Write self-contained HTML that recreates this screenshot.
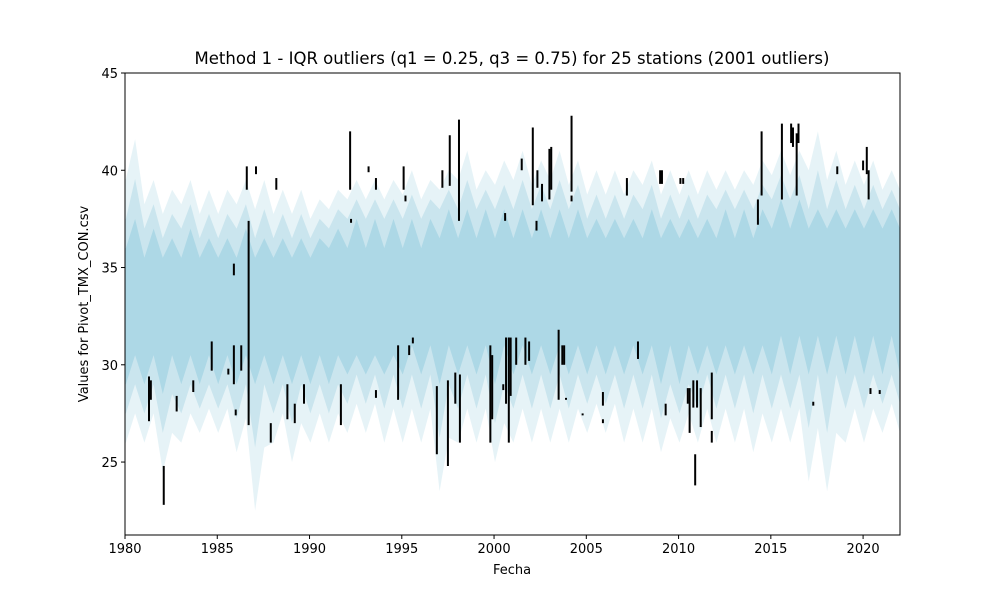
<!DOCTYPE html>
<html><head><meta charset="utf-8"><style>
body{margin:0;background:#fff;font-family:"Liberation Sans","DejaVu Sans",sans-serif}
svg text{font-family:"DejaVu Sans","Liberation Sans",sans-serif}
</style></head><body>
<svg id="chart" width="1000" height="600" viewBox="0 0 1000 600" xmlns="http://www.w3.org/2000/svg">
<rect width="1000" height="600" fill="#fff"/>
<text x="512" y="64" font-size="16.5" text-anchor="middle">Method 1 - IQR outliers (q1 = 0.25, q3 = 0.75) for 25 stations (2001 outliers)</text>
<g id="band"></g><g id="marks"></g><g id="axes"></g>
<text x="512" y="574" font-size="13" text-anchor="middle">Fecha</text>
<text transform="translate(88,304) rotate(-90)" font-size="13" text-anchor="middle">Values for Pivot_TMX_CON.csv</text>
</svg>
<script>
const years=[1980,1981,1982,1983,1984,1985,1986,1987,1988,1989,1990,1991,1992,1993,1994,1995,1996,1997,1998,1999,2000,2001,2002,2003,2004,2005,2006,2007,2008,2009,2010,2011,2012,2013,2014,2015,2016,2017,2018,2019,2020,2021];
const outerMax=[41.6,39.5,39,39.5,39,39,39.5,39.5,39,39,38.5,39,39.5,39.5,39.5,40,39.5,40,41,40,40.5,41,40.5,41,40.5,40,40,40,40.5,40,40,40,40,40,40.5,41,41,42,41,40.5,40.5,40];
const corePeak=[37.5,37,36.5,37,36.5,36.5,37,36.5,36.5,36.5,36.5,37,37.5,37.5,37.5,37.5,37.5,38,38,38,38,38,38,38,38,37.5,37.5,37.5,38,37.5,37.5,37.5,38,38,38,38.5,38.5,38,38,38,38,38];
const coreTrough=[36,35.5,35.5,35.5,35.5,35.5,35.5,35.5,35.5,35.5,35.5,36,36,36,36,36,36,36.5,36.5,36.5,36.5,36.5,36.5,36.5,36.5,36.5,36.5,36.5,36.5,36.5,36.5,36.5,36.5,36.5,36.5,37,37,37,37,37,37,37];
const coreLowPeak=[30.5,30.5,30.5,30.5,30.5,30.5,30.5,30.5,30.5,30.5,30.5,30.5,30.5,30.5,30.5,31,31,31,31,31,31,31,31,31,31,31,31,31,31,31,31,31,31,31,31,31.5,31.5,31.5,31.5,31.5,31.5,31.5];
const coreLowTrough=[29,29,28.5,29,29,29,29,29,29,29,29,29,29.5,29.5,29.5,29.5,29.5,29,29.5,29.5,29,29.5,29.5,29.5,29.5,29.5,29.5,29.5,29.5,29,29,29.5,29.5,29.5,29.5,29.5,29.5,29.5,29.5,29.5,29.5,29.5];
const outerMin=[26,26,24.5,26,26.5,26.5,25.5,22.5,26,25,26,26,26.5,26.5,26,26,26,23.5,26,26,25,26,26,26,26,26.5,26.5,26,26,25.5,26,26,26,26,25.5,26,26,24,23.5,26,26,26.5];
const outYear=[1981.3,1981.4,1982.1,1982.8,1983.7,1984.7,1985.6,1985.9,1985.9,1986.0,1986.3,1986.6,1986.7,1987.1,1987.9,1988.2,1988.8,1989.2,1989.7,1991.7,1992.2,1992.25,1993.2,1993.6,1993.6,1994.8,1995.1,1995.2,1995.4,1995.6,1996.9,1997.2,1997.5,1997.6,1997.9,1998.1,1998.15,1999.8,1999.9,2000.5,2000.6,2000.65,2000.8,2000.9,2001.2,2001.5,2001.7,2001.9,2002.1,2002.3,2002.35,2002.6,2003.0,2003.1,2003.5,2003.7,2003.8,2003.9,2004.2,2004.2,2004.8,2005.9,2005.9,2007.2,2007.8,2009.0,2009.1,2009.3,2010.1,2010.25,2010.5,2010.6,2010.8,2010.9,2011.0,2011.2,2011.8,2011.8,2014.3,2014.5,2015.6,2016.1,2016.2,2016.4,2016.5,2017.3,2018.6,2020.0,2020.2,2020.3,2020.4,2020.9];
const outLow=[27.1,28.2,22.8,27.6,28.6,29.7,29.5,29,34.6,27.4,29.7,39,26.9,39.8,26,39,27.2,27,28,26.9,39,37.3,39.9,39,28.3,28.2,39,38.4,30.5,31.1,25.4,39.1,24.8,39.2,28,37.4,26,26,27.2,28.7,37.4,28,26,28.4,30,40,30,30.2,38.2,36.9,39.1,38.4,38.5,39,28.2,30,30,28.2,38.9,38.4,27.4,27.9,27,38.7,30.3,39.3,39.3,27.4,39.3,39.3,28,26.5,27.8,23.8,27.8,26.8,27.2,26,37.2,38.7,38.5,41.4,41.2,38.7,41.4,27.9,39.8,40,39.8,38.5,28.5,28.5];
const outHigh=[29.4,29.2,24.8,28.4,29.2,31.2,29.8,31,35.2,27.7,31,40.2,37.4,40.2,27,39.6,29,28,29,29,42,37.5,40.2,39.6,28.7,31,40.2,38.7,31,31.4,28.9,40,29.2,41.8,29.6,42.6,29.5,31,30.5,29,37.8,31.4,31.4,31.4,31.4,40.6,31.4,31.2,42.2,37.4,40,39.3,41.1,41.2,31.8,31,31,28.3,42.8,38.7,27.5,28.6,27.2,39.6,31.2,40,40,28,39.6,39.6,28.8,28.8,29.2,25.4,29.2,28.8,29.6,26.6,38.5,42,42.4,42.4,42.2,41.9,42.4,28.1,40.2,40.5,41.2,40,28.8,28.7];
const xTicks=[1980,1985,1990,1995,2000,2005,2010,2015,2020];
const yTicks=[25,30,35,40,45];
const L=125,R=900,T=73,B=535,X0=1980,X1=2022,Y0=21.25,Y1=45;
const sx=v=>L+(v-X0)/(X1-X0)*(R-L);
const sy=v=>B-(v-Y0)/(Y1-Y0)*(B-T);
const NS='http://www.w3.org/2000/svg';
function mk(tag,attrs,parent){const e=document.createElementNS(NS,tag);for(const k in attrs)e.setAttribute(k,attrs[k]);parent.appendChild(e);return e;}
const band=document.getElementById('band'),marks=document.getElementById('marks'),axes=document.getElementById('axes');
function poly(topA,topB,botA,botB,fill,op,name){
  let top=[],bot=[];
  years.forEach((y,i)=>{top.push([sx(y+0.55),sy(topA[i])]);top.push([sx(y+0.05),sy(topB[i])]);
    bot.push([sx(y+0.55),sy(botA[i])]);bot.push([sx(y+0.05),sy(botB[i])]);});
  top.push([sx(2022.05),sy(topB[topB.length-1])]);bot.push([sx(2022.05),sy(botB[botB.length-1])]);
  top.sort((a,b)=>a[0]-b[0]);bot.sort((a,b)=>a[0]-b[0]);
  top.unshift([L,top[0][1]]);bot.unshift([L,bot[0][1]]);
  const pts=top.concat(bot.reverse()).map(p=>[Math.min(Math.max(p[0],L),R),p[1]].map(v=>v.toFixed(1)).join(',')).join(' ');
  const p=mk('polygon',{points:pts,fill:fill,'fill-opacity':op},band);
  
  
}
const midMax=outerMax.map((v,i)=>(v+corePeak[i])/2),midMin=outerMin.map((v,i)=>(v+coreLowTrough[i])/2);
poly(outerMax,midMax,midMin,outerMin,'#add8e6',0.3,'series-fringe');
poly(midMax,corePeak,coreLowTrough,midMin,'#add8e6',0.5,'series-mid');
poly(corePeak,coreTrough,coreLowPeak,coreLowTrough,'#add8e6',1,'series-core');
outYear.forEach((y,i)=>{
  const l=mk('line',{x1:sx(y),x2:sx(y),y1:sy(outHigh[i]),y2:sy(outLow[i]),stroke:'#000','stroke-width':2},marks);
  
  
});
const fr=mk('rect',{x:L,y:T,width:R-L,height:B-T,fill:'none',stroke:'#000','stroke-width':1},axes);


xTicks.forEach(t=>{
  const x=sx(t);
  const tk=mk('line',{x1:x,x2:x,y1:B,y2:B+4,stroke:'#000'},axes);
  
  
  const tx=mk('text',{x:x,y:B+18,'font-size':13,'text-anchor':'middle'},axes);tx.textContent=t;
  
  
});
yTicks.forEach(t=>{
  const y=sy(t);
  const tk=mk('line',{x1:L-4,x2:L,y1:y,y2:y,stroke:'#000'},axes);
  
  
  const tx=mk('text',{x:L-7,y:y+5,'font-size':13,'text-anchor':'end'},axes);tx.textContent=t;
  
  
});
</script>
</body></html>
